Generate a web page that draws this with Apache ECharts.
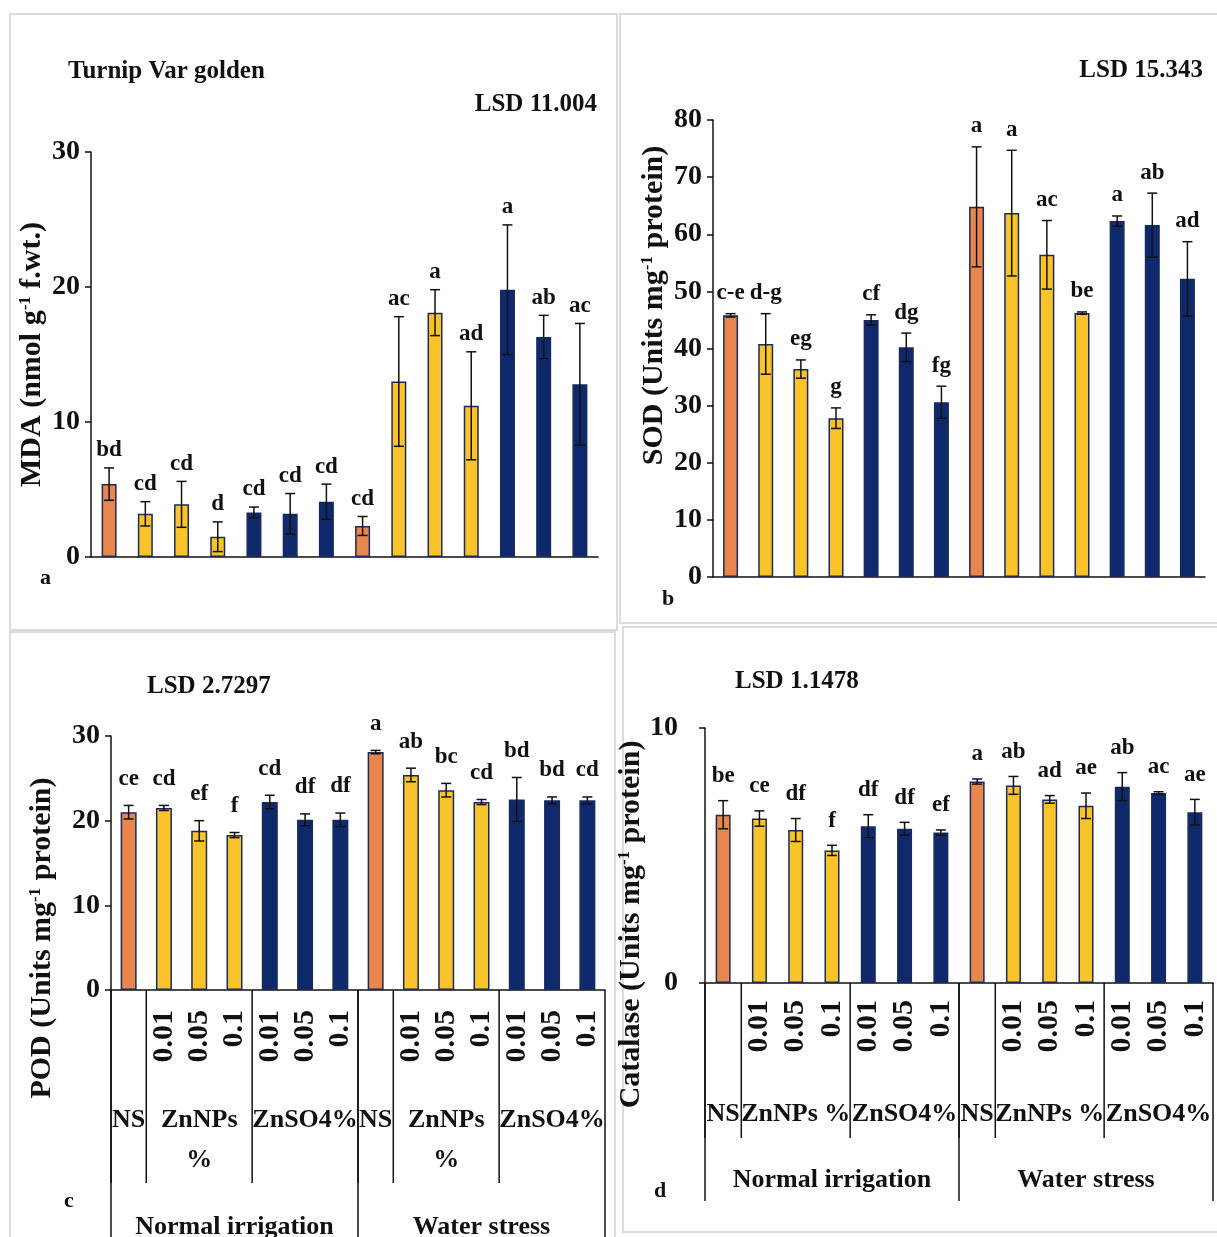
<!DOCTYPE html>
<html>
<head>
<meta charset="utf-8">
<script src="https://cdn.jsdelivr.net/npm/echarts@6/dist/echarts.min.js"></script>
<style>
html, body { margin: 0; padding: 0; background: #fff; }
#main { width: 1217px; height: 1237px; }
</style>
</head>
<body>
<div id="main"></div>
<script>
// categories (14 treatments)
var tickLabels = ['', '0.01', '0.05', '0.1', '0.01', '0.05', '0.1', '', '0.01', '0.05', '0.1', '0.01', '0.05', '0.1'];
var barType = ['ns', 'np', 'np', 'np', 'so', 'so', 'so', 'ns', 'np', 'np', 'np', 'so', 'so', 'so'];
var subGroups = [['NS', 0, 0], ['ZnNPs %', 1, 3], ['ZnSO4%', 4, 6], ['NS', 7, 7], ['ZnNPs %', 8, 10], ['ZnSO4%', 11, 13]];
var mainGroups = [['Normal irrigation', 0, 6], ['Water stress', 7, 13]];

// a - MDA
var mdaVal = [5.4, 3.2, 3.9, 1.5, 3.3, 3.2, 4.1, 2.3, 13.0, 18.1, 11.2, 19.8, 16.3, 12.8];
var mdaErr = [1.2, 0.9, 1.7, 1.1, 0.4, 1.5, 1.3, 0.7, 4.8, 1.7, 4.0, 4.8, 1.6, 4.5];
var mdaLet = ['bd', 'cd', 'cd', 'd', 'cd', 'cd', 'cd', 'cd', 'ac', 'a', 'ad', 'a', 'ab', 'ac'];
// b - SOD
var sodVal = [45.8, 40.8, 36.4, 27.8, 45.0, 40.2, 30.6, 64.8, 63.7, 56.4, 46.2, 62.3, 61.6, 52.2];
var sodErr = [0.3, 5.3, 1.6, 1.8, 0.9, 2.5, 2.8, 10.5, 11.0, 6.0, 0.2, 0.9, 5.6, 6.5];
var sodLet = ['c-e', 'd-g', 'eg', 'g', 'cf', 'dg', 'fg', 'a', 'a', 'ac', 'be', 'a', 'ab', 'ad'];
// c - POD
var podVal = [21.0, 21.5, 18.8, 18.3, 22.2, 20.1, 20.1, 28.1, 25.4, 23.6, 22.2, 22.5, 22.4, 22.4];
var podErr = [0.8, 0.3, 1.2, 0.3, 0.8, 0.7, 0.8, 0.2, 0.8, 0.8, 0.3, 2.6, 0.4, 0.4];
var podLet = ['ce', 'cd', 'ef', 'f', 'cd', 'df', 'df', 'a', 'ab', 'bc', 'cd', 'bd', 'bd', 'cd'];
// d - Catalase
var catVal = [6.6, 6.45, 6.0, 5.2, 6.15, 6.05, 5.9, 7.9, 7.75, 7.2, 6.95, 7.7, 7.45, 6.7];
var catErr = [0.55, 0.3, 0.45, 0.2, 0.45, 0.25, 0.1, 0.1, 0.35, 0.15, 0.5, 0.55, 0.05, 0.5];
var catLet = ['be', 'ce', 'df', 'f', 'df', 'df', 'ef', 'a', 'ab', 'ad', 'ae', 'ab', 'ac', 'ae'];

var FONT = '"Liberation Serif", "Times New Roman", serif';
var INK = '#111';
var colors = { ns: '#E8864B', np: '#F8C42A', so: '#0F2A6C' };

var myChart = echarts.init(document.getElementById('main'));

var grids = [], xAxes = [], yAxes = [], series = [];

function yName(txt, gap, pad) {
	return {
		name: txt, nameLocation: 'middle', nameGap: gap,
		nameTextStyle: {
			fontFamily: FONT, fontWeight: 'bold', fontSize: 30, color: INK, padding: pad,
			rich: { s: { fontFamily: FONT, fontWeight: 'bold', fontSize: 17, color: INK, verticalAlign: 'top' } }
		}
	};
}

function panel(i, box, vals, errs, lets, yMax, yStep, nameOpt, cfg) {
	grids.push(box);
	xAxes.push({
		type: 'category', gridIndex: i, data: tickLabels,
		axisLine: { lineStyle: { color: INK, width: 1.5 } },
		axisTick: { show: false },
		axisLabel: {
			show: cfg.labels, interval: 0, rotate: 90, margin: cfg.labelMargin || 18,
			fontFamily: FONT, fontWeight: 'bold', fontSize: 30, color: INK
		}
	});
	yAxes.push(Object.assign({
		type: 'value', gridIndex: i, min: 0, max: yMax, interval: yStep,
		axisLine: { show: true, lineStyle: { color: INK, width: 1.5 } },
		axisTick: { show: true, length: 6, lineStyle: { color: INK, width: 1.5 } },
		splitLine: { show: false },
		axisLabel: { margin: cfg.yMargin, fontFamily: FONT, fontWeight: 'bold', fontSize: 28, color: INK }
	}, nameOpt));

	series.push({
		type: 'bar', xAxisIndex: i, yAxisIndex: i, barWidth: cfg.barWidth, silent: true,
		itemStyle: { borderColor: '#1b2a5c', borderWidth: 1.5 },
		data: vals.map(function(v, j) {
			return { value: v, itemStyle: { color: colors[barType[j]] } };
		})
	});

	// error bars + letters
	series.push({
		type: 'custom', xAxisIndex: i, yAxisIndex: i, silent: true, clip: false, z: 5,
		data: vals.map(function(v, j) { return [j, v, errs[j]]; }),
		encode: { x: 0, y: 1 },
		renderItem: function(params, api) {
			var x = api.value(0), v = api.value(1), e = api.value(2);
			var top = api.coord([x, v + e]);
			var bot = api.coord([x, v - e]);
			var cap = 5;
			var st = { stroke: INK, lineWidth: 1.5 };
			return {
				type: 'group',
				children: [
					{ type: 'line', shape: { x1: top[0], y1: top[1], x2: bot[0], y2: bot[1] }, style: st },
					{ type: 'line', shape: { x1: top[0] - cap, y1: top[1], x2: top[0] + cap, y2: top[1] }, style: st },
					{ type: 'line', shape: { x1: bot[0] - cap, y1: bot[1], x2: bot[0] + cap, y2: bot[1] }, style: st },
					{
						type: 'text', x: top[0], y: top[1] - cfg.letterGap,
						style: {
							text: lets[params.dataIndex], fill: INK, align: 'center', verticalAlign: 'bottom',
							font: 'bold 23px ' + FONT
						}
					}
				]
			};
		}
	});

	if (cfg.labels) {
		series.push(groupSeries(i, subGroups, cfg.sub, false));
		series.push(groupSeries(i, mainGroups, cfg.main, true));
	}
}

// multi level category labels under the axis
function groupSeries(i, groups, opt, closeRight) {
	return {
		type: 'custom', xAxisIndex: i, yAxisIndex: i, silent: true, clip: false,
		data: groups.map(function(g) { return [g[1], g[2], 0]; }),
		encode: { x: [0, 1], y: 2 },
		renderItem: function(params, api) {
			var g = groups[params.dataIndex];
			var band = api.size([1, 0])[0];
			var p0 = api.coord([api.value(0), 0]);
			var p1 = api.coord([api.value(1), 0]);
			var left = p0[0] - band / 2;
			var right = p1[0] + band / 2;
			var st = { stroke: INK, lineWidth: 1.5 };
			var txt = opt.wrap ? g[0].replace(' ', '\n') : g[0];
			var kids = [
				{ type: 'line', shape: { x1: left, y1: p0[1], x2: left, y2: p0[1] + opt.len }, style: st },
				{
					type: 'text', x: (p0[0] + p1[0]) / 2, y: p0[1] + opt.off,
					style: {
						text: txt, fill: INK, align: 'center', verticalAlign: 'top',
						font: 'bold 26px ' + FONT, lineHeight: 40
					}
				}
			];
			if (closeRight && params.dataIndex == groups.length - 1) {
				kids.push({ type: 'line', shape: { x1: right, y1: p0[1], x2: right, y2: p0[1] + opt.len }, style: st });
			}
			return { type: 'group', children: kids };
		}
	};
}

panel(0, { left: 91, top: 152, width: 507, height: 405 }, mdaVal, mdaErr, mdaLet, 30, 10,
	yName('MDA (nmol g{s|-1} f.wt.)', 44, [0, 0, 0, 0]),
	{ labels: false, barWidth: 15, yMargin: 11, letterGap: 6 });
panel(1, { left: 713, top: 120, width: 492, height: 457 }, sodVal, sodErr, sodLet, 80, 10,
	yName('SOD (Units mg{s|-1} protein)', 44, [0, 0, 0, 86]),
	{ labels: false, barWidth: 15, yMargin: 11, letterGap: 9 });
panel(2, { left: 111, top: 736, width: 494, height: 254 }, podVal, podErr, podLet, 30, 10,
	yName('POD (Units mg{s|-1} protein)', 54, [0, 150, 0, 0]),
	{
		labels: true, barWidth: 16, yMargin: 11, letterGap: 15, labelMargin: 20,
		sub: { off: 110, len: 193, wrap: true },
		main: { off: 217, len: 260 }
	});
panel(3, { left: 705, top: 728, width: 508, height: 255 }, catVal, catErr, catLet, 10, 10,
	yName('Catalase (Units mg{s|-1} protein)', 43, [0, 138, 0, 0]),
	{
		labels: true, barWidth: 15, yMargin: 27, letterGap: 13, labelMargin: 17,
		sub: { off: 111, len: 155, wrap: false },
		main: { off: 177, len: 218 }
	});

function title(txt, pos, size) {
	return Object.assign({
		text: txt, padding: 0,
		textStyle: { fontFamily: FONT, fontWeight: 'bold', fontSize: size || 25, color: INK }
	}, pos);
}

option = {
	animation: false,
	backgroundColor: '#fff',
	title: [
		title('Turnip Var golden', { left: 68, top: 59 }),
		title('LSD 11.004', { right: 620, top: 92 }),
		title('LSD 15.343', { right: 14, top: 58 }),
		title('LSD 2.7297', { left: 147, top: 674 }),
		title('LSD 1.1478', { left: 735, top: 669 }),
		title('a', { left: 40, top: 567 }, 22),
		title('b', { left: 662, top: 588 }, 22),
		title('c', { left: 64, top: 1190 }, 22),
		title('d', { left: 654, top: 1180 }, 22)
	],
	graphic: [
		{ type: 'rect', shape: { x: 10, y: 14, width: 607, height: 616 }, style: { fill: 'none', stroke: '#dcdcdc', lineWidth: 2 }, silent: true },
		{ type: 'rect', shape: { x: 620, y: 14, width: 610, height: 609 }, style: { fill: 'none', stroke: '#dcdcdc', lineWidth: 2 }, silent: true },
		{ type: 'rect', shape: { x: 10, y: 632, width: 605, height: 640 }, style: { fill: 'none', stroke: '#dcdcdc', lineWidth: 2 }, silent: true },
		{ type: 'rect', shape: { x: 623, y: 627, width: 610, height: 605 }, style: { fill: 'none', stroke: '#dcdcdc', lineWidth: 2 }, silent: true }
	],
	grid: grids,
	xAxis: xAxes,
	yAxis: yAxes,
	series: series
};

myChart.setOption(option);
</script>
</body>
</html>
